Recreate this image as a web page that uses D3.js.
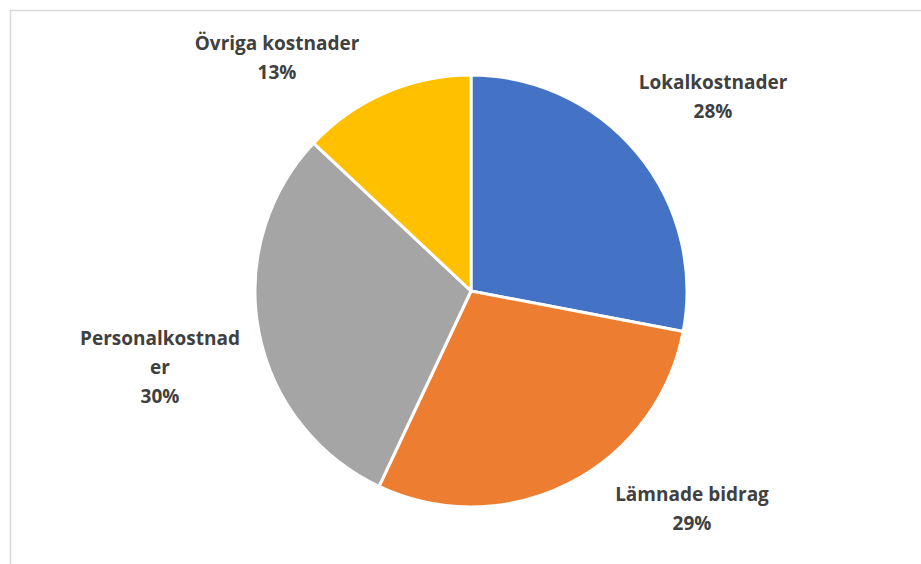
<!DOCTYPE html>
<html>
<head>
<meta charset="utf-8">
<script src="https://cdn.jsdelivr.net/npm/d3@7"></script>
<style>
  html, body { margin: 0; padding: 0; background: #ffffff; overflow: hidden; }
  svg { display: block; }
</style>
</head>
<body>
<svg id="chart" width="921" height="564"></svg>
<script>
// Kostnadsfördelning
const categories = ["Lokalkostnader", "Lämnade bidrag", "Personalkostnader", "Övriga kostnader"];
const shares = [28, 29, 30, 13];
const colors = ["#4472C4", "#ED7D31", "#A5A5A5", "#FFC000"];
// label text lines (the long name wraps inside its label box)
const labelLines = [["Lokalkostnader"], ["Lämnade bidrag"], ["Personalkostnad", "er"], ["Övriga kostnader"]];
// label anchor (centre of first line baseline)
const labelAnchors = [[713, 89], [692, 501], [160, 345], [277, 50]];

const svg = d3.select("#chart");

// chart area frame
svg.append("rect")
  .attr("x", 10.5).attr("y", 10.5)
  .attr("width", 940).attr("height", 600)
  .attr("fill", "#ffffff")
  .attr("stroke", "#d9d9d9")
  .attr("stroke-width", 1.5);

const cx = 471, cy = 291, radius = 216;

const pie = d3.pie().sort(null).value(d => d.value);
const arcs = pie(categories.map((c, i) => ({ name: c, value: shares[i], color: colors[i] })));
const arc = d3.arc().innerRadius(0).outerRadius(radius);

const g = svg.append("g").attr("transform", `translate(${cx},${cy})`);
g.selectAll("path.slice")
  .data(arcs)
  .join("path")
  .attr("class", "slice")
  .attr("d", arc)
  .attr("fill", d => d.data.color)
  .attr("stroke", "#ffffff")
  .attr("stroke-width", 3)
  .attr("stroke-linejoin", "round");

const total = d3.sum(shares);
const lineH = 29;
const labels = svg.append("g")
  .attr("font-family", "'Open Sans', sans-serif")
  .attr("font-weight", "bold")
  .attr("font-size", 19)
  .attr("fill", "#404040")
  .attr("text-anchor", "middle");

arcs.forEach((d, i) => {
  const [x, y] = labelAnchors[i];
  const lines = labelLines[i].concat([Math.round(d.data.value / total * 100) + "%"]);
  const t = labels.append("text").attr("x", x).attr("y", y);
  lines.forEach((ln, k) => {
    t.append("tspan").attr("x", x).attr("y", y + k * lineH).text(ln);
  });
});
</script>
</body>
</html>
